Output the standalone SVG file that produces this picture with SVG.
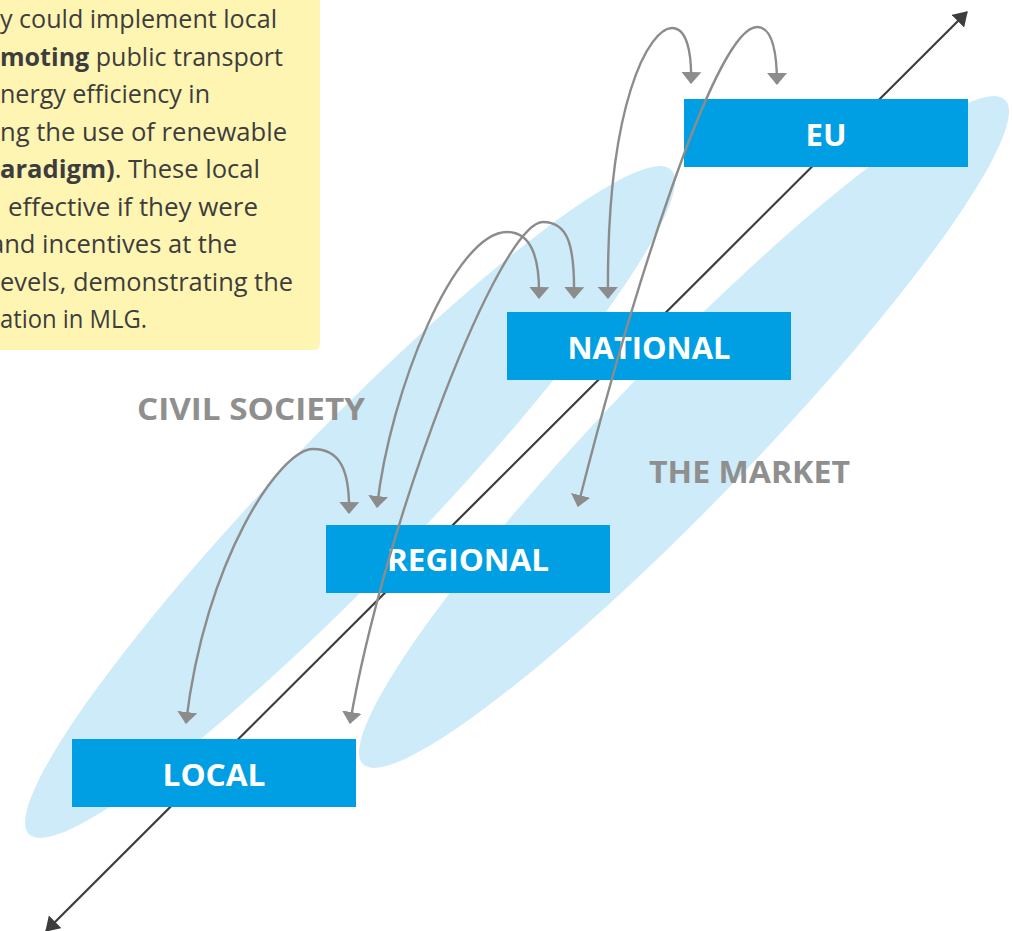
<svg xmlns="http://www.w3.org/2000/svg" width="1012" height="931" viewBox="0 0 1012 931">
  <defs>
    <style>
      .note { font-family: "Open Sans", "Liberation Sans", sans-serif; font-size: 25px; fill: #3d3d3d; }
      .note .b { font-weight: bold; }
      .zone { fill: #cdebf8; }
      .sector { font-family: "Open Sans", "Liberation Sans", sans-serif; font-size: 31px; font-weight: bold; fill: #8f8f8f; }
      .level rect { fill: #009fe3; }
      .level text { font-family: "Open Sans", "Liberation Sans", sans-serif; font-size: 31px; font-weight: bold; fill: #ffffff; text-anchor: middle; }
      .axis { stroke: #3d3d3d; stroke-width: 2.2; fill: none; }
      .link { stroke: #8c8c8c; stroke-width: 2.4; fill: none; }
    </style>
    <marker id="axisHead" viewBox="0 0 14 18" refX="13" refY="9" markerWidth="14" markerHeight="18" markerUnits="userSpaceOnUse" orient="auto-start-reverse">
      <path d="M0,0 L14,9 L0,18 z" fill="#3d3d3d"/>
    </marker>
    <marker id="linkHead" viewBox="0 0 12 20" refX="11" refY="10" markerWidth="12" markerHeight="20" markerUnits="userSpaceOnUse" orient="auto-start-reverse">
      <path d="M0,0 L12,10 L0,20 z" fill="#8c8c8c"/>
    </marker>
  </defs>

  <rect width="1012" height="931" fill="#ffffff"/>

  <!-- text panel -->
  <g id="note">
    <rect x="-20" y="-20" width="340" height="370" rx="6" fill="#fff5b2"/>
    <text class="note" x="0" y="28" textLength="277" lengthAdjust="spacingAndGlyphs">y could implement local</text>
    <text class="note" x="0" y="66" textLength="283" lengthAdjust="spacingAndGlyphs"><tspan class="b">moting</tspan> public transport</text>
    <text class="note" x="0" y="103" textLength="210" lengthAdjust="spacingAndGlyphs">nergy efficiency in</text>
    <text class="note" x="0" y="141" textLength="287" lengthAdjust="spacingAndGlyphs">ng the use of renewable</text>
    <text class="note" x="0" y="178" textLength="260" lengthAdjust="spacingAndGlyphs"><tspan class="b">aradigm)</tspan>. These local</text>
    <text class="note" x="8" y="216" textLength="250" lengthAdjust="spacingAndGlyphs">effective if they were</text>
    <text class="note" x="-10" y="253" textLength="247" lengthAdjust="spacingAndGlyphs">and incentives at the</text>
    <text class="note" x="0" y="291" textLength="293" lengthAdjust="spacingAndGlyphs">evels, demonstrating the</text>
    <text class="note" x="0" y="328" textLength="147" lengthAdjust="spacingAndGlyphs">ation in MLG.</text>
  </g>

  <!-- sector zones -->
  <g id="civil-society">
    <ellipse class="zone" cx="350" cy="502" rx="462" ry="71" transform="rotate(-46 350 502)"/>
    <text class="sector" x="137" y="420" textLength="228" lengthAdjust="spacingAndGlyphs">CIVIL SOCIETY</text>
  </g>
  <g id="market">
    <ellipse class="zone" cx="684" cy="432" rx="462" ry="71" transform="rotate(-46 684 432)"/>
    <text class="sector" x="649" y="483" textLength="201" lengthAdjust="spacingAndGlyphs">THE MARKET</text>
  </g>

  <!-- governance axis -->
  <g id="axis">
    <line class="axis" x1="46" y1="931" x2="967" y2="12" marker-start="url(#axisHead)" marker-end="url(#axisHead)"/>
  </g>

  <!-- levels -->
  <g id="eu" class="level">
    <rect x="684" y="99" width="284" height="68"/>
    <text x="826" y="146" textLength="41" lengthAdjust="spacingAndGlyphs">EU</text>
  </g>
  <g id="national" class="level">
    <rect x="507" y="312" width="284" height="68"/>
    <text x="649" y="359" textLength="163" lengthAdjust="spacingAndGlyphs">NATIONAL</text>
  </g>
  <g id="regional" class="level">
    <rect x="326" y="525" width="284" height="68"/>
    <text x="468" y="571" textLength="162" lengthAdjust="spacingAndGlyphs">REGIONAL</text>
  </g>
  <g id="local" class="level">
    <rect x="72" y="739" width="284" height="68"/>
    <text x="214" y="786" textLength="103" lengthAdjust="spacingAndGlyphs">LOCAL</text>
  </g>

  <!-- two-way links between levels -->
  <g id="connectors">
    <path class="link" d="M608,298 C606,100 650,28 672,28 C686,28 692,50 691,83" marker-start="url(#linkHead)" marker-end="url(#linkHead)"/>
    <path class="link" d="M578,506 C630,300 715,27 757,27 C772,27 777,50 777,84" marker-start="url(#linkHead)" marker-end="url(#linkHead)"/>
    <path class="link" d="M350,723 C385,520 500,222 543,222 C568,222 575,245 574,298" marker-start="url(#linkHead)" marker-end="url(#linkHead)"/>
    <path class="link" d="M377,507 C390,390 455,232 507,232 C530,232 540,255 539,298" marker-start="url(#linkHead)" marker-end="url(#linkHead)"/>
    <path class="link" d="M186,723 C205,560 280,449 313,449 C340,449 350,470 349,513" marker-start="url(#linkHead)" marker-end="url(#linkHead)"/>
  </g>
</svg>
